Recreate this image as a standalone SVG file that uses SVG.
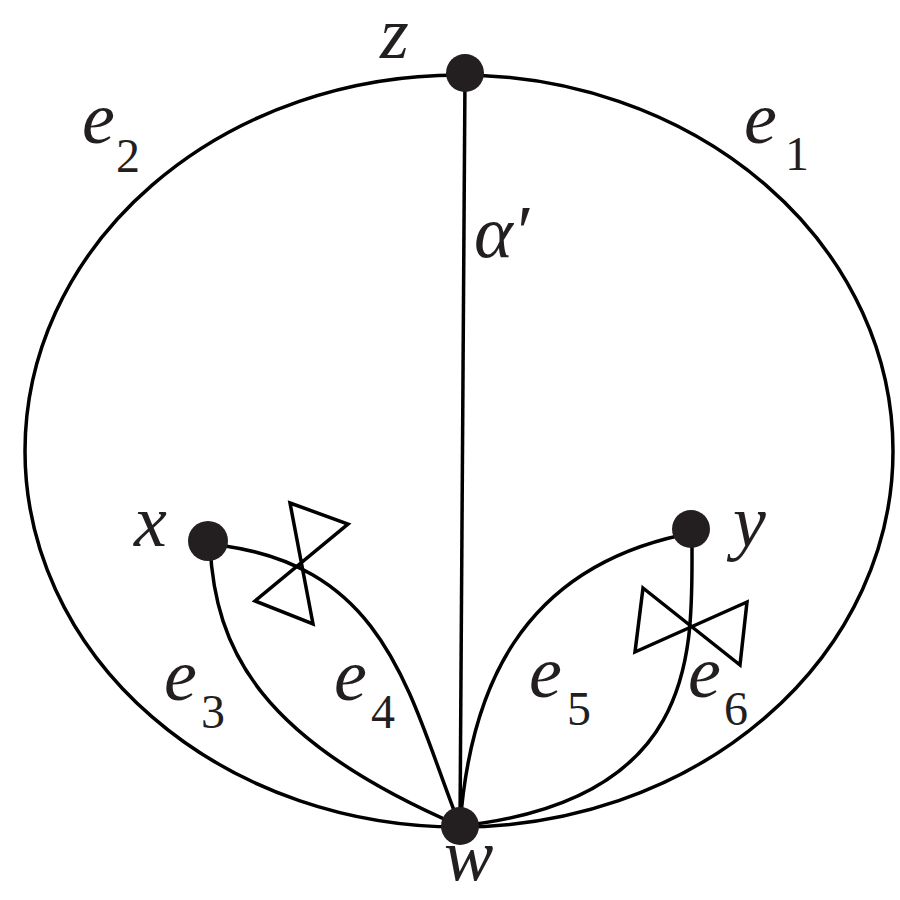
<svg xmlns="http://www.w3.org/2000/svg" width="900" height="900" viewBox="0 0 900 900">
<style>
.ln{fill:none;stroke:#000;stroke-width:3.5}
.bt{fill:none;stroke:#000;stroke-width:3.5;stroke-linejoin:miter}
.dot{fill:#231f20}
text{font-family:'Liberation Serif','Times New Roman',Times,serif;fill:#231f20}
.lb{font-style:italic;font-size:74px}
.sb{font-size:48px}
</style>
<rect width="900" height="900" fill="#fff"/>
<g id="edges">
<ellipse class="ln" cx="459" cy="451" rx="434" ry="376"/>
<line class="ln" x1="465" y1="75" x2="460" y2="826"/>
<path id="e3" class="ln" d="M210,545 C215,650 260,740 460,826"/>
<path id="e4" class="ln" d="M225,546 C390,570 410,700 460,826"/>
<path id="e5" class="ln" d="M460,826 C470,690 520,570 682,535"/>
<path id="e6" class="ln" d="M692,545 C692,650 700,800 460,826"/>
<path class="bt" d="M290,503 L348,524 L255,601 L313,624 Z"/>
<path class="bt" d="M643,588 L740,665 L747,602 L635,652 Z"/>
</g>
<g id="z"><circle class="dot" cx="465" cy="73" r="19"/><text class="lb" x="380" y="58">z</text></g>
<g id="x"><circle class="dot" cx="208" cy="541" r="20"/><text class="lb" x="134" y="546">x</text></g>
<g id="y"><circle class="dot" cx="691" cy="529" r="19"/><text class="lb" x="733" y="546">y</text></g>
<g id="w"><circle class="dot" cx="460" cy="826" r="19"/><text class="lb" x="444" y="880">w</text></g>
<g id="labels">
<text class="lb" x="82" y="143">e</text><text class="sb" x="116" y="172">2</text>
<text class="lb" x="744" y="143">e</text><text class="sb" x="785" y="170">1</text>
<text class="lb" x="474" y="257">α′</text>
<text class="lb" x="164" y="700">e</text><text class="sb" x="201" y="728">3</text>
<text class="lb" x="334" y="700">e</text><text class="sb" x="371" y="728">4</text>
<text class="lb" x="529" y="697">e</text><text class="sb" x="567" y="725">5</text>
<text class="lb" x="688" y="697">e</text><text class="sb" x="724" y="725">6</text>
</g>
</svg>
